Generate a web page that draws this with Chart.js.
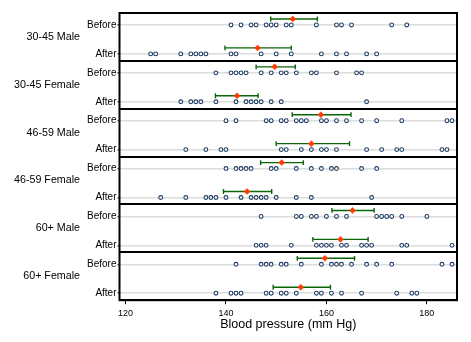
<!DOCTYPE html>
<html>
<head>
<meta charset="utf-8">
<script src="https://cdn.jsdelivr.net/npm/chart.js@4.4.1/dist/chart.umd.min.js"></script>
<style>
  html, body { margin: 0; padding: 0; background: #fff; }
  #wrap { width: 471px; height: 342px; }
</style>
</head>
<body>
<div id="wrap"><canvas id="bpChart" width="471" height="342"></canvas></div>
<script>
// Groups (top to bottom) and the two rows in each
const groups = ['30-45 Male', '30-45 Female', '46-59 Male', '46-59 Female', '60+ Male', '60+ Female'];
const rowLabels = ['Before', 'After'];
const xTicks = [120, 140, 160, 180];

// Individual readings (mm Hg)
const male3045Before = [141, 143, 145, 146, 148, 149, 150, 152, 153, 158, 162, 163, 165, 173, 176];
const male3045After = [125, 126, 131, 133, 134, 135, 136, 141, 142, 147, 150, 153, 159, 162, 164, 168, 170];
const female3045Before = [138, 141, 142, 143, 144, 147, 149, 151, 152, 154, 157, 158, 162, 166, 167];
const female3045After = [131, 133, 134, 135, 138, 142, 144, 145, 146, 147, 149, 151, 168];
const male4659Before = [140, 142, 148, 149, 151, 152, 154, 155, 156, 159, 160, 162, 164, 167, 170, 175, 184, 185];
const male4659After = [132, 136, 139, 140, 151, 152, 155, 157, 159, 160, 162, 168, 171, 174, 175, 183, 184];
const female4659Before = [140, 142, 143, 144, 145, 149, 150, 154, 157, 159, 161, 162, 167, 170];
const female4659After = [127, 132, 136, 137, 138, 140, 143, 145, 146, 147, 148, 150, 154, 157, 169];
const male60Before = [147, 154, 155, 157, 158, 160, 162, 164, 170, 171, 172, 173, 175, 180];
const male60After = [146, 147, 148, 153, 158, 159, 160, 161, 163, 164, 167, 168, 169, 175, 176, 185];
const female60Before = [142, 147, 148, 149, 151, 152, 155, 159, 161, 162, 163, 165, 168, 170, 173, 183, 185];
const female60After = [138, 141, 142, 143, 148, 149, 151, 152, 154, 158, 159, 161, 163, 167, 174, 177, 178];

// Mean and interval per row, in order: group1 Before, group1 After, group2 Before, ...
const meanValues = [153.3, 146.3, 149.7, 142.2, 158.9, 157.0, 151.1, 144.2, 165.2, 162.8, 159.7, 154.9];
const ciLow = [148.9, 139.8, 146.0, 137.9, 153.2, 150.0, 146.9, 139.5, 161.1, 157.3, 154.2, 149.4];
const ciHigh = [158.2, 153.0, 153.8, 146.4, 164.9, 164.6, 155.4, 149.1, 169.5, 168.3, 165.6, 160.8];

const rowData = [
    male3045Before, male3045After,
    female3045Before, female3045After,
    male4659Before, male4659After,
    female4659Before, female4659After,
    male60Before, male60After,
    female60Before, female60After
];

// vertical layout of a panel (y axis units)
const panelH = 48;
const rowOffset = [12, 41];
const meanLift = 6;
const rowY = i => Math.floor(i / 2) * panelH + rowOffset[i % 2];

const fontFamily = '"Liberation Sans", Arial, sans-serif';

// dots
const dotPoints = [];
rowData.forEach((vals, i) => {
    vals.forEach(v => dotPoints.push({ x: v, y: rowY(i) }));
});

const datasets = [];

// means on top
datasets.push({
    type: 'scatter',
    data: meanValues.map((m, i) => ({ x: m, y: rowY(i) - meanLift })),
    pointStyle: 'rectRot',
    pointRadius: 3,
    backgroundColor: '#ff3c00',
    borderColor: '#ff3c00',
    borderWidth: 0.5,
    order: 0
});

// interval bars with caps
meanValues.forEach((m, i) => {
    const y = rowY(i) - meanLift;
    datasets.push({
        type: 'line',
        data: [{ x: ciLow[i], y: y }, { x: ciHigh[i], y: y }],
        borderColor: '#0a640a',
        borderWidth: 1.4,
        pointStyle: 'line',
        pointRotation: 90,
        pointRadius: 2.4,
        pointBorderColor: '#0a640a',
        pointBorderWidth: 1.4,
        fill: false,
        order: 1
    });
});

datasets.push({
    type: 'scatter',
    data: dotPoints,
    pointStyle: 'circle',
    pointRadius: 1.9,
    backgroundColor: '#ffffff',
    borderColor: '#1d3d63',
    borderWidth: 1.1,
    order: 2
});

// black frame round the plot
const framePlugin = {
    id: 'frame',
    afterDraw(chart) {
        const { ctx, chartArea } = chart;
        ctx.save();
        ctx.strokeStyle = '#000';
        ctx.lineWidth = 2;
        ctx.strokeRect(chartArea.left, chartArea.top, chartArea.right - chartArea.left, chartArea.bottom - chartArea.top);
        ctx.restore();
    }
};

const totalH = groups.length * panelH;

new Chart(document.getElementById('bpChart').getContext('2d'), {
    data: { datasets: datasets },
    options: {
        responsive: false,
        devicePixelRatio: 1,
        animation: false,
        layout: { padding: { left: 0, top: 13, right: 14, bottom: 11.5 } },
        plugins: {
            legend: { display: false },
            tooltip: { enabled: false }
        },
        scales: {
            x: {
                type: 'linear',
                position: 'bottom',
                min: 118.8,
                max: 186,
                afterBuildTicks: axis => { axis.ticks = xTicks.map(v => ({ value: v })); },
                ticks: { color: '#000', font: { family: fontFamily, size: 9 }, padding: 4, maxRotation: 0 },
                grid: { drawOnChartArea: false, color: '#000', tickLength: 4, lineWidth: 1 },
                border: { display: false },
                title: {
                    display: true,
                    text: 'Blood pressure (mm Hg)',
                    color: '#000',
                    font: { family: fontFamily, size: 12.5, lineHeight: 1 },
                    padding: { top: -5, bottom: 0 }
                }
            },
            y: {
                type: 'linear',
                position: 'left',
                reverse: true,
                min: 0,
                max: totalH,
                weight: 0,
                afterBuildTicks: axis => {
                    axis.ticks = rowData.map((d, i) => ({ value: rowY(i) }));
                },
                afterFit: axis => { axis.width = 34.5; },
                ticks: {
                    autoSkip: false,
                    color: '#000',
                    padding: 1,
                    font: { family: fontFamily, size: 10 },
                    callback: value => rowLabels[rowOffset.indexOf(value % panelH)]
                },
                grid: { color: '#dcdcdc', lineWidth: 1.5, tickLength: 2, tickColor: '#555' },
                border: { display: false }
            },
            yGroup: {
                type: 'linear',
                position: 'left',
                reverse: true,
                min: 0,
                max: totalH,
                weight: 1,
                afterBuildTicks: axis => {
                    const t = [];
                    for (let v = 0; v <= totalH; v += panelH / 2) t.push({ value: v });
                    axis.ticks = t;
                },
                afterFit: axis => { axis.width = 85; },
                ticks: {
                    autoSkip: false,
                    color: '#000',
                    padding: 5,
                    font: { family: fontFamily, size: 10.7 },
                    callback: value => (value % panelH === panelH / 2) ? groups[Math.floor(value / panelH)] : ''
                },
                grid: {
                    drawTicks: false,
                    lineWidth: 2,
                    color: ctx => (ctx.tick && ctx.tick.value % panelH === 0) ? '#000' : 'rgba(0,0,0,0)'
                },
                border: { display: false }
            }
        }
    },
    plugins: [framePlugin]
});
</script>
</body>
</html>
